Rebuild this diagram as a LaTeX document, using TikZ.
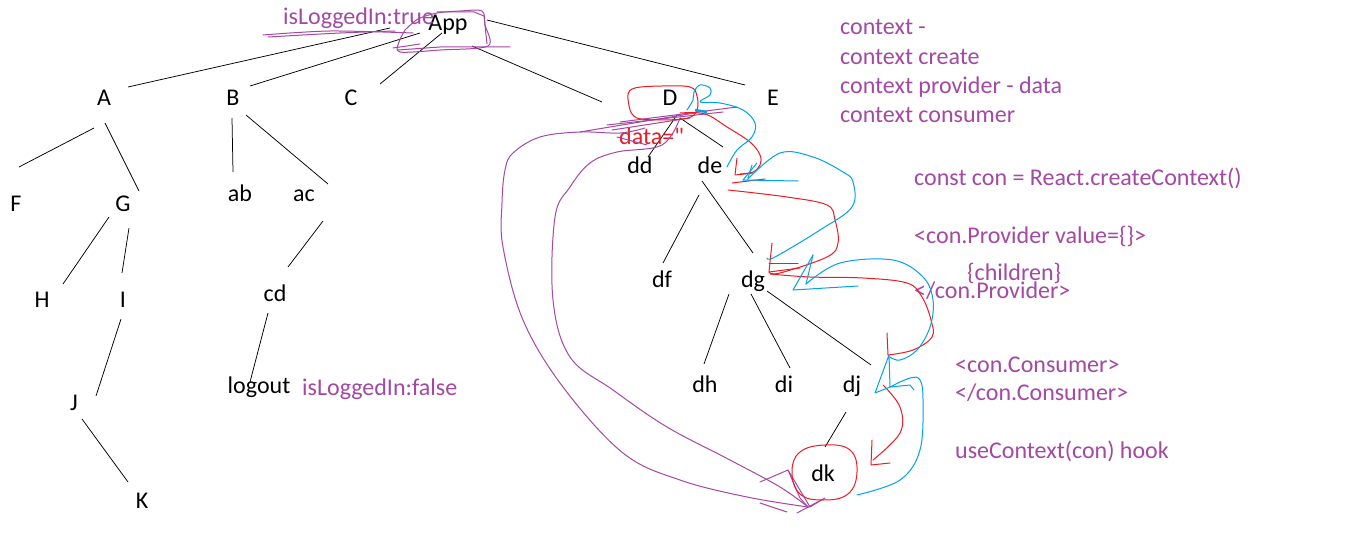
\documentclass[tikz,border=0pt]{standalone}
\usepackage{fontspec}
\setmainfont{Carlito}
\newfontfamily\rawcarlito{Carlito}[Ligatures=TeXOff]
\usetikzlibrary{calc}
\definecolor{ppurple}{HTML}{A349A4}
\definecolor{pred}{HTML}{ED1C24}
\definecolor{pblue}{HTML}{00A2E8}
\begin{document}
\begin{tikzpicture}[x=1pt,y=-1pt,
  lbl/.style={font=\fontsize{24}{29}\selectfont, inner sep=0pt, anchor=base},
  note/.style={font=\fontsize{24}{29}\selectfont, inner sep=0pt, anchor=base west, text=ppurple},
  edge/.style={black, line width=0.75pt},
  scrib/.style={line width=1pt, line join=round, line cap=round},
  pscrib/.style={scrib, ppurple},
  rscrib/.style={scrib, pred},
  bscrib/.style={scrib, pblue}]
\useasboundingbox[fill=white] (0,0) rectangle (1360,551);

% ---- tree labels
\node[lbl] (App) at (448,31) {App};
\node[lbl] (A) at (104,105) {A};
\node[lbl] (B) at (233,105) {B};
\node[lbl] (C) at (351,105) {C};
\node[lbl] (D) at (670,105) {D};
\node[lbl] (E) at (773,105) {E};
\node[lbl] (F) at (16,211) {F};
\node[lbl] (G) at (123,211) {G};
\node[lbl] (H) at (42,307) {H};
\node[lbl] (I) at (123,307) {I};
\node[lbl] (J) at (74,410) {J};
\node[lbl] (K) at (142,508) {K};
\node[lbl] (ab) at (240,201) {ab};
\node[lbl] (ac) at (304,201) {ac};
\node[lbl] (cd) at (275,301) {cd};
\node[lbl] (logout) at (259,393) {logout};
\node[lbl] (dd) at (640,173) {dd};
\node[lbl] (de) at (710,173) {de};
\node[lbl] (df) at (662,287) {df};
\node[lbl] (dg) at (753,287) {dg};
\node[lbl] (dh) at (705,392) {dh};
\node[lbl] (di) at (784,392) {di};
\node[lbl] (dj) at (852,392) {dj};
\node[lbl] (dk) at (823,481) {dk};

% ---- tree edges
\draw[edge] ($(App.base)+(-58,-3)$) -- ($(A.base)+(24,-18)$);
\draw[edge] ($(App.base)+(-28,2)$) -- ($(B.base)+(17,-19)$);
\draw[edge] ($(App.base)+(-6,2)$) -- ($(C.base)+(29,-21)$);
\draw[edge] ($(App.base)+(24,15)$) -- ($(D.base)+(-68,-3)$);
\draw[edge] ($(App.base)+(39,-11)$) -- ($(E.base)+(-28,-20)$);
\draw[edge] ($(A.base)+(-10,23)$) -- ($(F.base)+(3,-44)$);
\draw[edge] ($(A.base)+(1,18)$) -- ($(G.base)+(16,-20)$);
\draw[edge] ($(G.base)+(-14,6)$) -- ($(H.base)+(21,-23)$);
\draw[edge] ($(G.base)+(6,17)$) -- ($(I.base)+(-1,-34)$);
\draw[edge] ($(I.base)+(-2,12)$) -- ($(J.base)+(22,-14)$);
\draw[edge] ($(J.base)+(8,9)$) -- ($(K.base)+(-14,-26)$);
\draw[edge] ($(B.base)+(-1,13)$) -- ($(ab.base)+(-7,-29)$);
\draw[edge] ($(B.base)+(13,10)$) -- ($(ac.base)+(24,-17)$);
\draw[edge] ($(ac.base)+(19,20)$) -- ($(cd.base)+(13,-34)$);
\draw[edge] ($(cd.base)+(-7,12)$) -- ($(logout.base)+(-9,-11)$);
\draw[edge] ($(D.base)+(7,10)$) -- ($(dd.base)+(8,-16)$);
\draw[edge] ($(D.base)+(10,13)$) -- ($(de.base)+(13,-26)$);
\draw[edge] ($(de.base)+(-11,22)$) -- ($(df.base)+(1,-24)$);
\draw[edge] ($(de.base)+(-8,8)$) -- ($(dg.base)+(0,-34)$);
\draw[edge] ($(dg.base)+(-24,7)$) -- ($(dh.base)+(-1,-28)$);
\draw[edge] ($(dg.base)+(-2,7)$) -- ($(di.base)+(6,-24)$);
\draw[edge] ($(dg.base)+(14,4)$) -- ($(dj.base)+(19,-27)$);
\draw[edge] ($(dj.base)+(-6,20)$) -- ($(dk.base)+(2,-34)$);

% ---- purple notes
\node[note] (loggedT) at (283,25) {isLoggedIn:true};
\node[note] (loggedF) at (302,395) {isLoggedIn:false};
\node[note] (n1) at (840,35) {context -};
\node[note] (n2) at (840,64) {context create};
\node[note] (n3) at (840,93) {context provider - data};
\node[note] (n4) at (840,122) {context consumer};
\node[note] (n5) at (914,185) {const con = React.createContext()};
\node[note] (n6) at (914,243) {<con.Provider value=\{\}>};
\node[note] (n7) at (967,280) {\{children\}};
\node[note] (n8) at (914,298) {</con.Provider>};
\node[note] (n9) at (955,372) {<con.Consumer>};
\node[note] (n10) at (955,400) {</con.Consumer>};
\node[note] (n11) at (955,458) {useContext(con) hook};
\node[note, text=pred] (data) at (619,144) {data={\rawcarlito\symbol{34}}};

% ---- purple scribbles around App
\draw[pscrib] plot[smooth, tension=0.5] coordinates {(263,35) (330,31) (413,33)};
\draw[pscrib] plot[smooth, tension=0.5] coordinates {(268,37) (340,33) (395,31)};
\draw[pscrib] plot[smooth, tension=0.5] coordinates {(405,30) (399,42) (400,52) (440,50) (488,46) (485,25) (482,11) (460,11) (437,13) (418,19) (405,30)};
\draw[pscrib] (437,12) -- (474,12) -- (484,16) -- (487,44);
\draw[pscrib] (398,50) -- (440,47) -- (510,47);
\draw[pscrib] (393,48) -- (420,44);

% ---- purple hatching near D
\draw[pscrib] (580,132) -- (640,122) -- (695,113);
\draw[pscrib] (607,125) -- (723,112);
\draw[pscrib] (620,122) -- (737,107);
\draw[pscrib] (617,137) -- (647,145);
\draw[pscrib] (612,130) -- (690,118);

% ---- big purple curves
\draw[pscrib] plot[smooth, tension=0.6] coordinates {(645,128) (620,133) (580,132) (540,137) (513,153) (505,170) (502,203) (503,247) (523,320) (563,387) (623,453) (680,480) (747,497) (808,507)};
\draw[pscrib] plot[smooth, tension=0.6] coordinates {(680,118) (662,145) (617,152) (590,163) (570,187) (555,217) (553,300) (570,357) (613,390) (667,427) (730,460) (780,487) (808,507)};
\draw[pscrib] (760,482) -- (788,470) -- (810,507) -- (825,498) -- (797,513);
\draw[pscrib] (760,503) -- (787,512);
\draw[pscrib] (788,470) -- (800,498) -- (808,507);

% ---- red scribbles
\draw[rscrib] plot[smooth, tension=0.6] coordinates {(630,110) (628,95) (635,88) (662,86) (690,87) (697,96) (697,110) (688,118) (660,120) (637,118) (630,110)};
\draw[rscrib] plot[smooth, tension=0.6] coordinates {(680,113) (705,114) (727,127) (750,142) (760,155) (760,165) (753,172) (740,174)};
\draw[rscrib] (737,158) -- (735,175) -- (753,173);
\draw[rscrib] (732,183) -- (765,179);
\draw[rscrib] plot[smooth, tension=0.6] coordinates {(728,190) (787,197) (827,205) (835,220) (838,243) (827,257) (780,273) (769,272)};
\draw[rscrib] (772,243) -- (769,272) -- (800,268);
\draw[rscrib] (769,263) -- (798,263);
\draw[rscrib] plot[smooth, tension=0.6] coordinates {(770,274) (810,277) (863,278) (907,283) (922,297) (931,320) (932,337) (913,350) (888,355)};
\draw[rscrib] (887,333) -- (888,355);
\draw[rscrib] plot[smooth, tension=0.6] coordinates {(883,385) (900,407) (900,433) (873,460)};
\draw[rscrib] (872,440) -- (871,465) -- (890,463);
\draw[rscrib] plot[smooth cycle, tension=0.7] coordinates {(825,445) (850,450) (857,472) (848,494) (823,500) (800,494) (792,472) (800,452)};

% ---- blue scribbles
\draw[bscrib] plot[smooth, tension=0.6] coordinates {(687,110) (693,100) (694,92) (700,85) (710,88) (710,95) (700,102) (720,103) (743,110) (755,123) (752,137) (737,150) (727,167)};
\draw[pblue, line width=2.5pt] (695,110) -- (707,112);
\draw[bscrib] (757,163) -- (743,180) -- (798,181);
\draw[bscrib] (752,165) -- (748,178);
\draw[bscrib] plot[smooth, tension=0.6] coordinates {(747,180) (780,153) (813,157) (843,172) (853,182) (852,207) (820,230) (775,257) (767,258)};
\draw[bscrib] (813,255) -- (793,290) -- (858,286);
\draw[bscrib] (813,255) -- (806,284);
\draw[bscrib] plot[smooth, tension=0.6] coordinates {(806,284) (840,263) (893,260) (923,277) (933,300) (930,327) (917,350) (900,360) (890,357)};
\draw[bscrib] (889,355) -- (875,393) -- (890,387) -- (889,355);
\draw[bscrib] (890,387) -- (910,385) -- (914,390);
\draw[bscrib] plot[smooth, tension=0.6] coordinates {(890,387) (910,378) (920,380) (923,400) (920,450) (900,480) (857,495)};
\end{tikzpicture}
\end{document}
